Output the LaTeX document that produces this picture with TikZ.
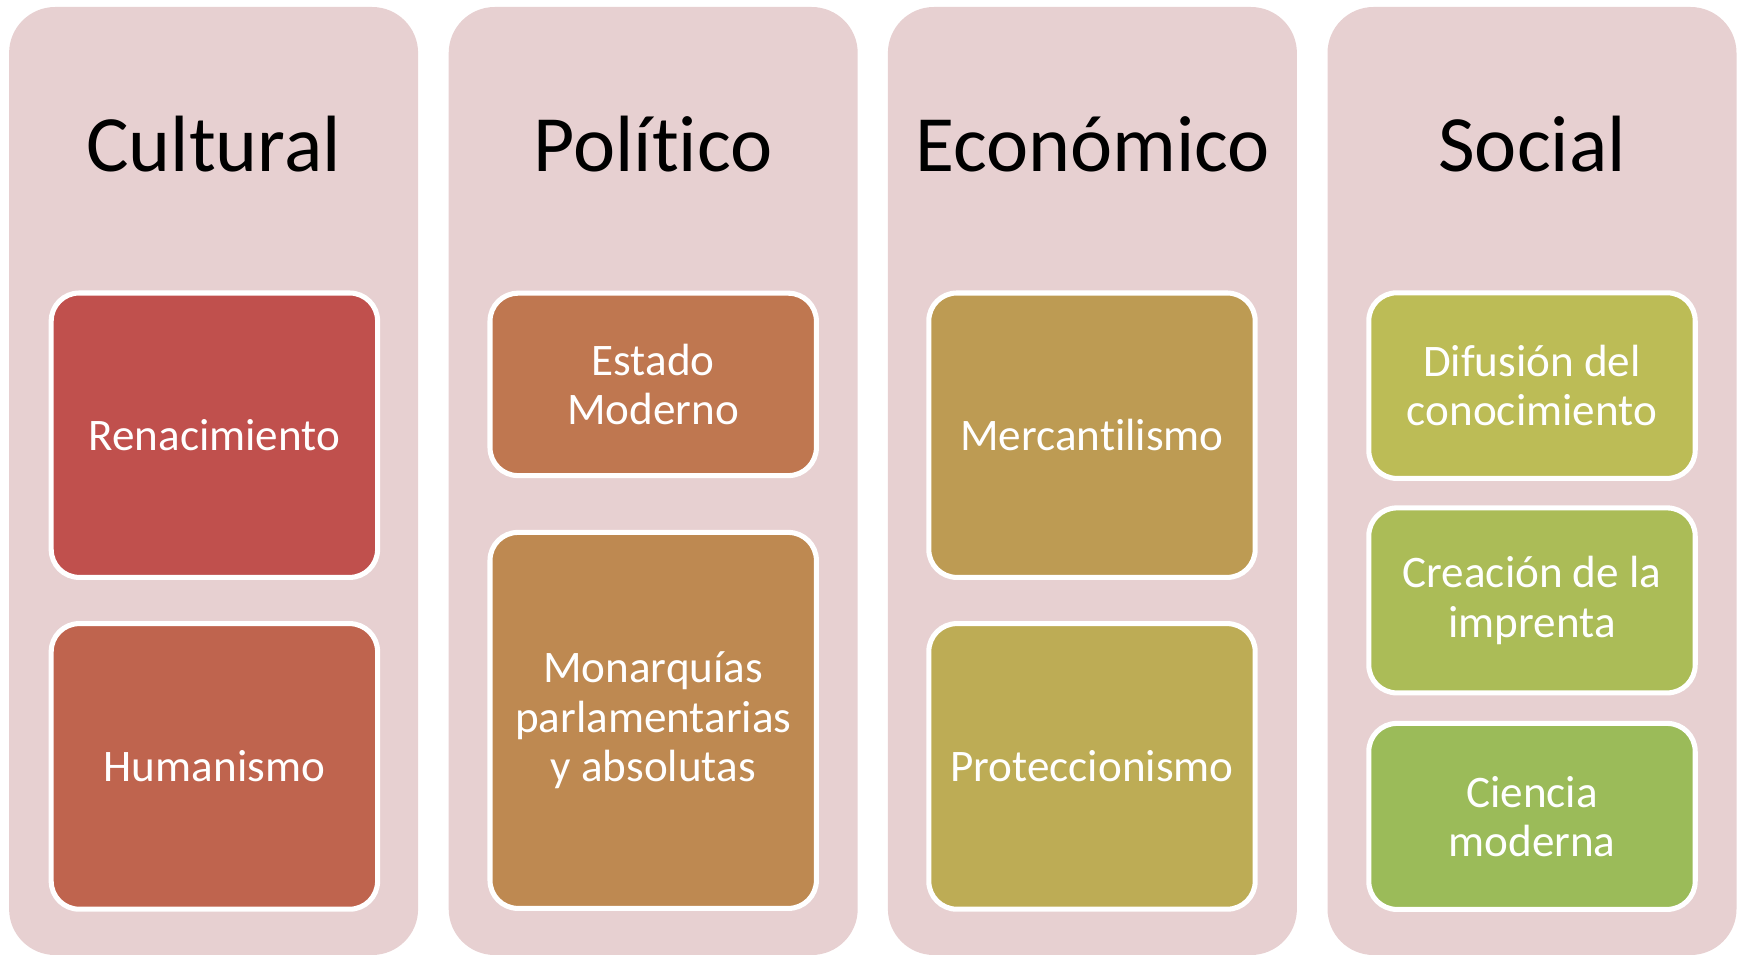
\documentclass[tikz,border=0pt]{standalone}
\usepackage{fontspec}
\setmainfont{Carlito}[Ligatures=NoCommon]
\usepackage{tikz}

\definecolor{fondo}{HTML}{E7D0D1}
\definecolor{rojo}{HTML}{C0504D}
\definecolor{rojoclaro}{HTML}{BF644E}
\definecolor{naranja}{HTML}{BF7750}
\definecolor{naranjaclaro}{HTML}{BE8951}
\definecolor{ocre}{HTML}{BD9B53}
\definecolor{ocreclaro}{HTML}{BDAC55}
\definecolor{oliva}{HTML}{BCBC56}
\definecolor{olivaclaro}{HTML}{ABBC57}
\definecolor{verde}{HTML}{9BBB59}

\begin{document}
\begin{tikzpicture}[
	col/.style={fill=fondo, rounded corners=1.15cm, minimum width=10.225cm, minimum height=23.7cm},
	titulo/.style={anchor=base, font=\fontsize{56.8}{64}\selectfont},
	caja/.style={draw=white, line width=3.6pt, rounded corners=0.7cm, minimum width=8.16cm, inner sep=0pt, text=white, align=center, font=\fontsize{32.1}{35}\selectfont}
]
	\useasboundingbox (0,0) rectangle (43.525,-23.875);

	%columnas
	\node[col] (colcult)	at (5.34, -12.025)	{};
	\node[col] (colpol)		at (16.33, -12.025)	{};
	\node[col] (coleco)		at (27.31, -12.025)	{};
	\node[col] (colsoc)		at (38.3, -12.025)	{};

	\node[titulo] (cultural)	at (5.34, -4.29)	{Cultural};
	\node[titulo] (politico)	at (16.33, -4.29)	{Político};
	\node[titulo] (economico)	at (27.31, -4.29)	{Económico};
	\node[titulo] (social)		at (38.3, -4.29)	{Social};

	\node[caja, fill=rojo, minimum height=7.11cm]			(renac)		at (5.36, -10.88)	{Renacimiento};
	\node[caja, fill=rojoclaro, minimum height=7.14cm]		(human)		at (5.36, -19.16)	{Humanismo};

	\node[caja, fill=naranja, minimum height=4.56cm]		(estado)	at (16.33, -9.61)	{Estado\\Moderno};
	\node[caja, fill=naranjaclaro, minimum height=9.4cm]	(monarq)	at (16.33, -18.01)	{Monarquías\\parlamentarias\\y absolutas};

	\node[caja, fill=ocre, minimum height=7.11cm]			(mercant)	at (27.3, -10.88)	{Mercantilismo};
	\node[caja, fill=ocreclaro, minimum height=7.14cm]		(protecc)	at (27.3, -19.16)	{Proteccionismo};

	\node[caja, fill=oliva, minimum height=4.64cm]			(difusion)	at (38.3, -9.64)	{Difusión del\\conocimiento};
	\node[caja, fill=olivaclaro, minimum height=4.625cm]	(imprenta)	at (38.3, -15.01)	{Creación de la\\imprenta};
	\node[caja, fill=verde, minimum height=4.65cm]			(ciencia)	at (38.3, -20.41)	{Ciencia\\moderna};

\end{tikzpicture}
\end{document}
